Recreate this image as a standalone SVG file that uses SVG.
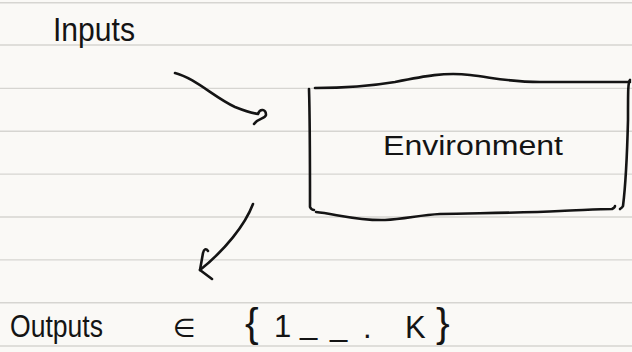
<svg xmlns="http://www.w3.org/2000/svg" width="632" height="352" viewBox="0 0 632 352">
<style>
.ink{fill:none;stroke:#141414;stroke-width:2.6;stroke-linecap:round;stroke-linejoin:round}
.rule{stroke:#d6d5d1;stroke-width:1.4}
.t{font-family:"Liberation Sans","DejaVu Sans",sans-serif;fill:#141414}
</style>
<rect width="632" height="352" fill="#faf9f6"/>
<g id="paper-lines">
<line class="rule" x1="0" y1="2.7" x2="632" y2="2.7"/>
<line class="rule" x1="0" y1="45" x2="632" y2="45"/>
<line class="rule" x1="0" y1="88.4" x2="632" y2="88.4"/>
<line class="rule" x1="0" y1="131.3" x2="632" y2="131.3"/>
<line class="rule" x1="0" y1="174.1" x2="632" y2="174.1"/>
<line class="rule" x1="0" y1="217" x2="632" y2="217"/>
<line class="rule" x1="0" y1="259.9" x2="632" y2="259.9"/>
<line class="rule" x1="0" y1="302.7" x2="632" y2="302.7"/>
<line class="rule" x1="0" y1="346" x2="632" y2="346"/>
</g>
<g id="inputs">
<text class="t" x="53" y="41" font-size="33" textLength="82" lengthAdjust="spacingAndGlyphs">Inputs</text>
</g>
<g id="environment">
<path class="ink" d="M309,89 C310,120 310,170 310,207 C311,209 312,210 314,210"/>
<path class="ink" d="M315,88 C340,88 365,87 395,82 C425,76 445,72 470,75 C495,78 510,82 540,82 C570,82 600,82 630,82"/>
<path class="ink" d="M630,80 C628,82 628,90 628,120 C627,160 625,190 623,206 C622,208 621,208 620,209"/>
<path class="ink" d="M316,212 C335,214 360,221 385,220 C405,219 420,215 440,214 C480,213 520,213 560,211 C585,210 600,209 612,209 C614,208 615,207 615,206"/>
<text class="t" x="383" y="155" font-size="27" textLength="180" lengthAdjust="spacingAndGlyphs">Environment</text>
</g>
<g id="outputs">
<text class="t" x="10" y="337" font-size="31" textLength="93" lengthAdjust="spacingAndGlyphs">Outputs</text>
<text class="t" x="173" y="337" font-size="26">∈</text>
<text class="t" font-size="31" y="340"><tspan x="245" font-size="41" y="337">{</tspan><tspan x="274">1</tspan><tspan x="300" y="334">_</tspan><tspan x="330" y="336">_</tspan><tspan x="363" y="338">.</tspan><tspan x="405">K</tspan><tspan x="436" font-size="41" y="337">}</tspan></text>
</g>
<g id="connectors">
<path class="ink" d="M175,73 C195,78 215,98 235,107 C245,111 252,113 258,114 C260,108 266,109 266,115 C265,119 258,118 254,124"/>
<path class="ink" d="M253,204 C245,225 225,250 200,270"/>
<path class="ink" d="M208,251 C206,248 204,249 203,253 L200,270 L212,279"/>
</g>
</svg>
